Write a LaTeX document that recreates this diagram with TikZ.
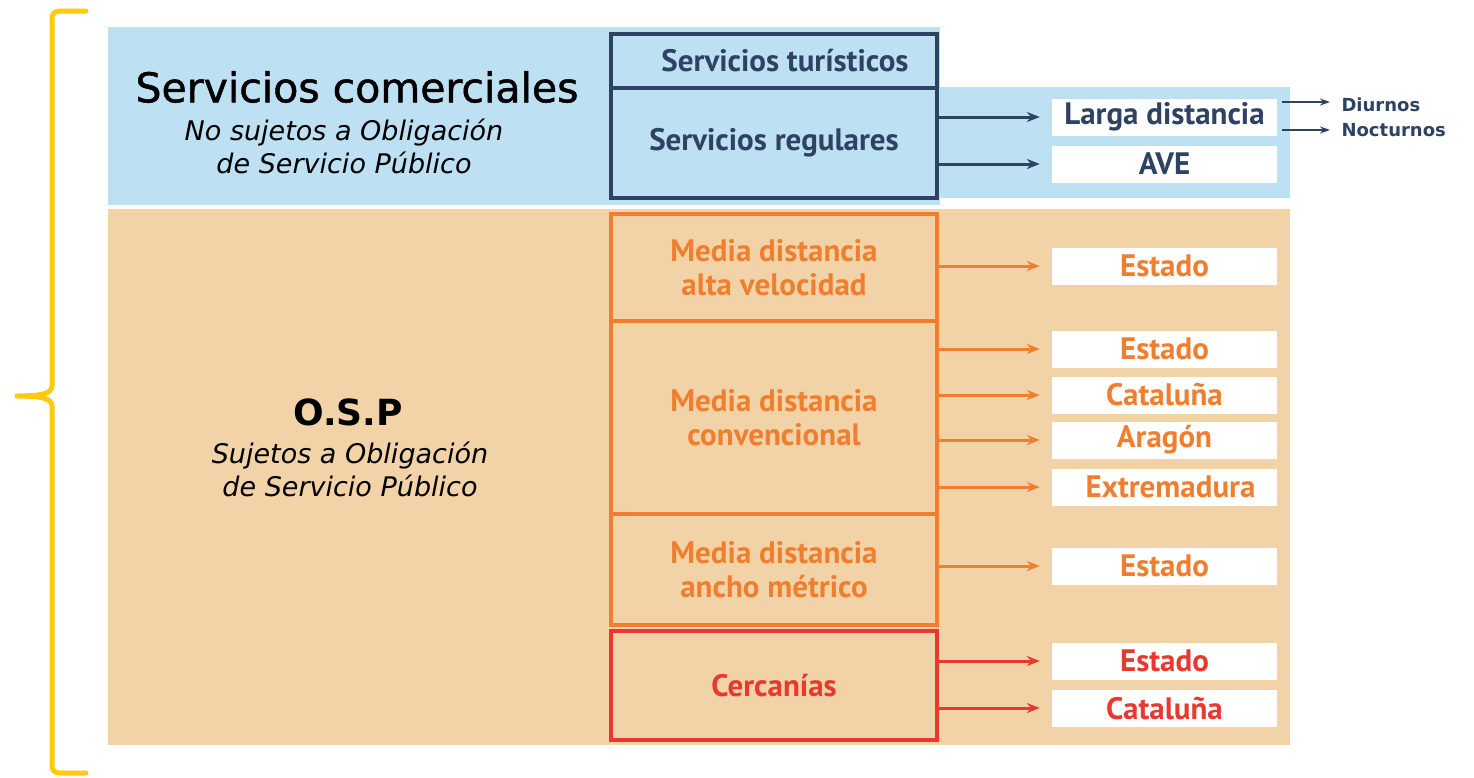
\documentclass[tikz,border=0pt]{standalone}
\usepackage{fontspec}
\setmainfont{DejaVu Sans}
\newfontfamily\boxfont{PT Sans}
\newfontfamily\titlefont[FakeBold=1.2]{DejaVu Sans}
\usetikzlibrary{arrows.meta}
\definecolor{bandblue}{HTML}{BEE0F3}
\definecolor{bandorange}{HTML}{F2D3A8}
\definecolor{navy}{HTML}{2E4262}
\definecolor{orng}{HTML}{EF7F2E}
\definecolor{redc}{HTML}{E8392F}
\definecolor{braceyellow}{HTML}{FFC90E}
\begin{document}
\begin{tikzpicture}[x=1pt,y=-1pt,
  catbox/.style={draw, line width=3.4pt, minimum width=326pt, inner sep=0pt, align=center,
    font=\boxfont\bfseries\fontsize{31}{34}\selectfont},
  subbox/.style={fill=white, minimum width=225pt, minimum height=37pt, inner sep=0pt,
    font=\boxfont\bfseries\fontsize{31}{32}\selectfont},
  arr/.style={line width=3pt, -{Stealth[length=13pt,width=10pt]}},
  thinarr/.style={line width=1.6pt, -{Stealth[length=10pt,width=7pt]}},
  sidetitle/.style={align=center, font=\titlefont\fontsize{41}{44}\selectfont},
  sidesub/.style={align=center, font=\itshape\fontsize{27}{33}\selectfont},
]
\useasboundingbox (0,0) rectangle (1474,777);
\fill[white] (0,0) rectangle (1474,777);
% bands
\fill[bandblue] (108,27) rectangle (940,205);
\fill[bandblue] (940,87) rectangle (1290,198);
\fill[bandorange] (108,209) rectangle (1290,745);
% brace
\draw[braceyellow, line width=5pt, line cap=round, line join=round]
  (86,11) -- (62,11) .. controls (54,11) and (52,13) .. (52,20) -- (52,386)
  .. controls (52,394) and (40,396) .. (17,396)
  .. controls (40,396) and (52,398) .. (52,406) -- (52,764)
  .. controls (52,771) and (54,773) .. (62,773) -- (86,773);
% left titles
\node[sidetitle] (sc) at (357,87) {Servicios comerciales};
\node[sidesub] (scsub) at (344,146) {No sujetos a Obligación\\de Servicio Público};
\node[align=center, font=\bfseries\fontsize{36}{40}\selectfont] (osp) at (348,412) {O.S.P};
\node[sidesub] (ospsub) at (350,469) {Sujetos a Obligación\\de Servicio Público};
% commercial
\node[catbox, navy, minimum height=54pt] (tur) at (774,61) {\hspace*{22pt}Servicios turísticos};
\node[catbox, navy, minimum height=110pt] (reg) at (774,143) {Servicios regulares};
\node[subbox, text=navy] (ld) at (1164.5,117) {Larga distancia};
\node[subbox, text=navy] (ave) at (1164.5,164) {AVE};
\node[anchor=west, navy, font=\bfseries\fontsize{18}{20}\selectfont] (diu) at (1338,105) {Diurnos};
\node[anchor=west, navy, font=\bfseries\fontsize{18}{20}\selectfont] (noc) at (1338,130) {Nocturnos};
\coordinate (dtip) at ([xshift=-8pt,yshift=3pt]diu.west);
\coordinate (ntip) at ([xshift=-8pt]noc.west);
\draw[arr, navy] (reg.east |- ld.west) -- ([xshift=-12pt]ld.west);
\draw[arr, navy] (reg.east |- ave.west) -- ([xshift=-12pt]ave.west);
\draw[thinarr, navy] ([xshift=5pt]ld.east |- dtip) -- (dtip);
\draw[thinarr, navy] ([xshift=5pt]ld.east |- ntip) -- (ntip);
% OSP
\node[catbox, orng, minimum height=107pt] (mdav) at (774,267.5) {Media distancia\\alta velocidad};
\node[catbox, orng, minimum height=193pt] (mdc) at (774,417.5) {Media distancia\\convencional};
\node[catbox, orng, minimum height=111pt] (mdam) at (774,569.5) {Media distancia\\ancho métrico};
\node[catbox, redc, minimum height=109pt] (cer) at (774,685.5) {Cercanías};
\node[subbox, text=orng] (e1) at (1164.5,266) {Estado};
\node[subbox, text=orng] (e2) at (1164.5,349) {Estado};
\node[subbox, text=orng] (cat1) at (1164.5,395) {Cataluña};
\node[subbox, text=orng] (ara) at (1164.5,440) {Aragón};
\node[subbox, text=orng] (ext) at (1164.5,487) {\hspace*{12pt}Extremadura};
\node[subbox, text=orng] (e3) at (1164.5,566) {Estado};
\node[subbox, text=redc] (e4) at (1164.5,661) {Estado};
\node[subbox, text=redc] (cat2) at (1164.5,708) {Cataluña};
\draw[arr, orng] (mdav.east |- e1.west) -- ([xshift=-12pt]e1.west);
\draw[arr, orng] (mdc.east |- e2.west) -- ([xshift=-12pt]e2.west);
\draw[arr, orng] (mdc.east |- cat1.west) -- ([xshift=-12pt]cat1.west);
\draw[arr, orng] (mdc.east |- ara.west) -- ([xshift=-12pt]ara.west);
\draw[arr, orng] (mdc.east |- ext.west) -- ([xshift=-12pt]ext.west);
\draw[arr, orng] (mdam.east |- e3.west) -- ([xshift=-12pt]e3.west);
\draw[arr, redc] (cer.east |- e4.west) -- ([xshift=-12pt]e4.west);
\draw[arr, redc] (cer.east |- cat2.west) -- ([xshift=-12pt]cat2.west);
\end{tikzpicture}
\end{document}
